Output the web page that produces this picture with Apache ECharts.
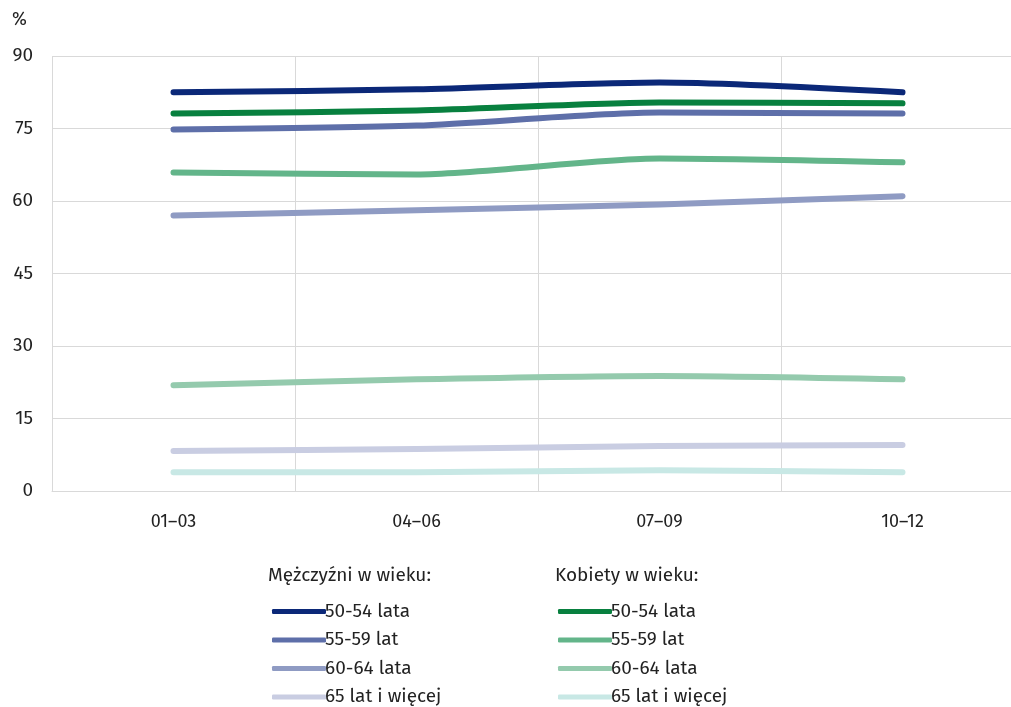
<!DOCTYPE html>
<html>
<head>
<meta charset="utf-8">
<script src="https://cdn.jsdelivr.net/npm/echarts@6/dist/echarts.min.js"></script>
<style>
html,body{margin:0;padding:0;background:#fff;}
#c{width:1011px;height:707px;}
</style>
</head>
<body>
<div id="c"></div>
<script>
var categories = ['01\u201303', '04\u201306', '07\u201309', '10\u201312'];
var yTicks = [0, 15, 30, 45, 60, 75, 90];

var menNames = ['50-54 lata', '55-59 lat', '60-64 lata', '65 lat i więcej'];
var womenNames = ['50-54 lata ', '55-59 lat ', '60-64 lata ', '65 lat i więcej '];

var men5054 = [82.5, 83.1, 84.5, 82.5];
var men5559 = [74.8, 75.6, 78.3, 78.1];
var men6064 = [57.0, 58.1, 59.3, 61.0];
var men65 = [8.3, 8.7, 9.3, 9.5];

var women5054 = [78.1, 78.7, 80.4, 80.2];
var women5559 = [65.9, 65.5, 68.8, 68.0];
var women6064 = [21.9, 23.1, 23.8, 23.1];
var women65 = [3.9, 3.9, 4.3, 3.9];

var menColors = ['#0b2878', '#5e6fa9', '#8f9bc3', '#c9cde2'];
var womenColors = ['#08803f', '#63b58a', '#94caad', '#c8e8e5'];

var menData = [men5054, men5559, men6064, men65];
var womenData = [women5054, women5559, women6064, women65];

function mk(name, data, color) {
  return {
    name: name, type: 'line', data: data, smooth: 0.25,
    symbol: 'none', color: color,
    lineStyle: { width: 6, color: color, cap: 'round', join: 'round' },
    emphasis: { disabled: true }, z: 3
  };
}
var series = [];
for (var i = 3; i >= 0; i--) {
  series.push(mk(womenNames[i], womenData[i], womenColors[i]));
  series.push(mk(menNames[i], menData[i], menColors[i]));
}

var font = 'Fira Sans, "Noto Sans", "Open Sans", sans-serif';
var legendBase = {
  orient: 'vertical', icon: 'roundRect', itemWidth: 54, itemHeight: 5,
  itemGap: 9.5, selectedMode: false, padding: 0, height: 115,
  textStyle: { fontSize: 19, color: '#222', fontFamily: font, padding: [0, 0, 0, -6] }
};

var chart = echarts.init(document.getElementById('c'), null, { renderer: 'canvas' });
chart.setOption({
  animation: false,
  grid: { left: 52, top: 56, height: 435, width: 972, containLabel: false, outerBoundsMode: 'none' },
  xAxis: {
    type: 'category', data: categories, boundaryGap: true,
    axisLine: { show: true, lineStyle: { color: '#d9d9d9', width: 1 } },
    axisTick: { show: false },
    splitLine: { show: true, lineStyle: { color: '#d9d9d9', width: 1 } },
    axisLabel: { margin: 22, fontSize: 18, color: '#222', fontFamily: font }
  },
  yAxis: {
    type: 'value', min: 0, max: 90, interval: 15,
    axisLine: { show: false }, axisTick: { show: false },
    splitLine: { lineStyle: { color: '#d9d9d9', width: 1 } },
    axisLabel: { margin: 19, fontSize: 19, color: '#222', fontFamily: font }
  },
  legend: [
    Object.assign({}, legendBase, { left: 272, top: 602, data: menNames }),
    Object.assign({}, legendBase, { left: 558, top: 602, data: womenNames })
  ],
  graphic: [
    { type: 'text', left: 12, top: 11, style: { text: '%', fontSize: 18, fill: '#222', fontFamily: font } },
    { type: 'text', left: 268, top: 566, style: { text: 'Mężczyźni w wieku:', fontSize: 19, fill: '#222', fontFamily: font } },
    { type: 'text', left: 555, top: 566, style: { text: 'Kobiety w wieku:', fontSize: 19, fill: '#222', fontFamily: font } }
  ],
  series: series
});
</script>
</body>
</html>
